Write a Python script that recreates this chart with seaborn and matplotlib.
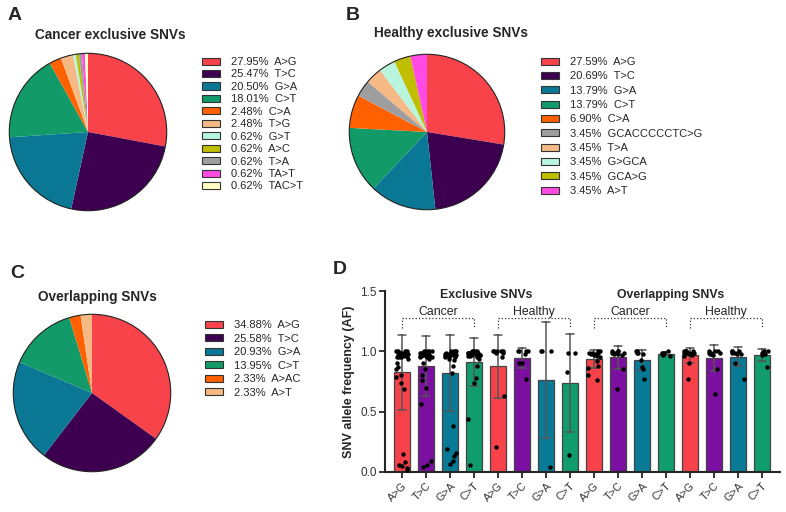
import numpy as np
import pandas as pd
import seaborn as sns
import matplotlib.pyplot as plt

sns.set_style('ticks')
plt.rcParams['font.family'] = ['Liberation Sans', 'DejaVu Sans']

# -- pie data (percent, mutation type, colour) --
cancer_pct = [27.95, 25.47, 20.50, 18.01, 2.48, 2.48, 0.62, 0.62, 0.62, 0.62, 0.62]
cancer_lab = ['A>G', 'T>C', 'G>A', 'C>T', 'C>A', 'T>G', 'G>T', 'A>C', 'T>A', 'TA>T', 'TAC>T']
cancer_col = ['#F8434A', '#3D0050', '#0A7895', '#129A68', '#FF6000', '#F5B985',
              '#B8F5DC', '#C0BE00', '#9E9E9E', '#FF4BE3', '#FFFFC4']

healthy_pct = [27.59, 20.69, 13.79, 13.79, 6.90, 3.45, 3.45, 3.45, 3.45, 3.45]
healthy_lab = ['A>G', 'T>C', 'G>A', 'C>T', 'C>A', 'GCACCCCCTC>G', 'T>A', 'G>GCA', 'GCA>G', 'A>T']
healthy_col = ['#F8434A', '#3D0050', '#0A7895', '#129A68', '#FF6000', '#9E9E9E',
               '#F5B985', '#B8F5DC', '#C0BE00', '#FF4BE3']

overlap_pct = [34.88, 25.58, 20.93, 13.95, 2.33, 2.33]
overlap_lab = ['A>G', 'T>C', 'G>A', 'C>T', 'A>AC', 'A>T']
overlap_col = ['#F8434A', '#3D0050', '#0A7895', '#129A68', '#FF6000', '#F5B985']

# -- allele frequencies per bar (panel D) --
groups = ['Exclusive cancer', 'Exclusive healthy', 'Overlapping cancer', 'Overlapping healthy']
muts = ['A>G', 'T>C', 'G>A', 'C>T']
af_exc_cancer = {
    'A>G': [0.15, 0.08, 0.06, 0.05, 0.03, 0.02, 0.90, 0.87, 0.85, 0.80, 0.79, 0.74, 0.69,
            0.99, 0.98, 0.97, 1.00, 0.96, 0.99, 0.98, 0.97, 1.00, 0.95, 0.99, 0.98, 0.96,
            0.97, 1.00, 0.99, 0.94, 0.98, 0.97, 0.96, 1.00, 0.99, 0.95, 0.98, 0.97, 0.99,
            0.96, 0.98, 0.97, 0.95, 0.99, 0.98],
    'T>C': [0.09, 0.06, 0.04, 0.90, 0.85, 0.80, 0.76, 0.70, 0.56,
            0.99, 0.98, 0.97, 1.00, 0.96, 0.99, 0.98, 0.97, 1.00, 0.95, 0.99, 0.98, 0.96,
            0.97, 1.00, 0.99, 0.94, 0.98, 0.97, 0.96, 1.00, 0.99, 0.95, 0.98, 0.97, 0.99,
            0.96, 0.98, 0.97, 0.95, 0.99, 0.98],
    'G>A': [0.38, 0.19, 0.16, 0.13, 0.09, 0.07, 0.93, 0.88, 0.82,
            0.99, 0.98, 0.97, 1.00, 0.96, 0.99, 0.98, 0.97, 1.00, 0.95, 0.99, 0.98, 0.96,
            0.97, 1.00, 0.99, 0.94, 0.98, 0.97, 0.96, 1.00, 0.99, 0.95, 0.97],
    'C>T': [0.44, 0.06, 0.88, 0.78, 0.74,
            0.99, 0.98, 0.97, 1.00, 0.96, 0.99, 0.98, 0.97, 1.00, 0.95, 0.99, 0.98, 0.96,
            0.97, 1.00, 0.99, 0.94, 0.98, 0.97, 0.96, 1.00, 0.99, 0.95, 0.97],
}
af_exc_healthy = {
    'A>G': [1.00, 1.00, 0.99, 1.00, 0.99, 1.00, 1.00, 0.95, 0.63, 0.21],
    'T>C': [1.00, 1.00, 1.00, 1.00, 0.98, 0.90, 0.90, 0.77],
    'G>A': [1.00, 1.00, 1.00, 0.04],
    'C>T': [0.99, 0.99, 0.83, 0.14],
}
af_ovl_cancer = {
    'A>G': [0.98, 0.99, 1.00, 0.97, 0.99, 0.98, 1.00, 0.96, 0.99, 0.95, 0.92, 0.88, 0.86, 0.80, 0.76],
    'T>C': [0.99, 1.00, 0.98, 0.99, 1.00, 0.97, 0.99, 0.98, 1.00, 0.85, 0.69],
    'G>A': [1.00, 0.99, 0.98, 1.00, 0.99, 0.93, 0.87, 0.85, 0.77],
    'C>T': [0.99, 1.00, 0.98, 0.97, 0.96, 0.99],
}
af_ovl_healthy = {
    'A>G': [1.00, 0.99, 0.98, 1.00, 0.99, 0.98, 1.00, 0.97, 0.99, 0.98, 1.00, 0.99, 0.96, 0.90, 0.77],
    'T>C': [1.00, 0.99, 0.98, 1.00, 0.99, 0.97, 0.99, 0.98, 1.00, 0.85, 0.65],
    'G>A': [1.00, 0.99, 0.98, 1.00, 0.99, 0.98, 1.00, 0.90, 0.77],
    'C>T': [1.00, 0.99, 0.98, 1.00, 0.97, 0.87],
}
bar_cols = ['#F8424A', '#7B0FA0', '#087A96', '#119C6D']

rows = []
for g, d in zip(groups, [af_exc_cancer, af_exc_healthy, af_ovl_cancer, af_ovl_healthy]):
    for m in muts:
        for v in d[m]:
            rows.append({'bar': g + ' ' + m, 'mut': m, 'af': v})
df = pd.DataFrame(rows)
bar_order = [g + ' ' + m for g in groups for m in muts]

fig = plt.figure(figsize=(7.86, 5.12), dpi=100)
W, H = 786.0, 512.0


def pie_panel(cx, cy, r, pct, lab, col, title, tx, ty, letter, lx, ly, leg_xy, spacing):
    ax = fig.add_axes([(cx - r) / W, 1 - (cy + r) / H, 2 * r / W, 2 * r / H])
    wedges, _ = ax.pie(pct, colors=col, startangle=90, counterclock=False,
                       wedgeprops=dict(linewidth=0))
    # thin outline round the whole pie
    ax.pie([1], colors=['none'], wedgeprops=dict(edgecolor='#222222', linewidth=0.8))
    ax.set_xlim(-1.01, 1.01)
    ax.set_ylim(-1.01, 1.01)
    for w in ax.patches:
        w.set_clip_on(False)
    labels = ['%.2f%%  %s' % (p, l) for p, l in zip(pct, lab)]
    for w in wedges:
        w.set_edgecolor('#333333')
    leg = fig.legend(wedges, labels, loc='upper left', bbox_to_anchor=leg_xy,
                     bbox_transform=fig.transFigure, frameon=False, fontsize=8,
                     borderpad=0, borderaxespad=0, handlelength=1.6, handleheight=0.6,
                     handletextpad=1.0, labelspacing=spacing)
    for h in leg.legend_handles:
        h.set_linewidth(0.8)
    for w in wedges:
        w.set_linewidth(0)
    fig.text(tx / W, 1 - ty / H, title, fontsize=9.8, fontweight='bold', ha='center', va='center')
    fig.text(lx / W, 1 - ly / H, letter, fontsize=14, fontweight='bold', ha='center', va='center')


pie_panel(88, 132, 79.5, cancer_pct, cancer_lab, cancer_col, 'Cancer exclusive SNVs',
          110, 35, 'A', 15, 15, (202 / W, 1 - 57 / H), 0.22)
pie_panel(427, 132, 78.5, healthy_pct, healthy_lab, healthy_col, 'Healthy exclusive SNVs',
          451, 33, 'B', 353, 15, (541 / W, 1 - 57 / H), 0.39)
pie_panel(92, 393, 79.5, overlap_pct, overlap_lab, overlap_col, 'Overlapping SNVs',
          97, 297, 'C', 17, 273, (205 / W, 1 - 320 / H), 0.32)

# -- panel D: bars with individual points --
axd = fig.add_axes([385 / W, 1 - 472 / H, 395 / W, 181 / H])
sns.barplot(data=df, x='bar', y='af', order=bar_order, hue='bar', hue_order=bar_order,
            palette=bar_cols * 4, saturation=1, errorbar='sd', capsize=0.32, width=0.64,
            err_kws={'color': '#555555', 'linewidth': 1.1}, edgecolor='#444444',
            linewidth=0.9, legend=False, ax=axd)
np.random.seed(3)
sns.stripplot(data=df, x='bar', y='af', order=bar_order, color='black', size=3.2,
              jitter=0.27, ax=axd)
axd.set_xlim(-0.71, 15.75)
axd.set_ylim(0, 1.5)
axd.set_yticks([0, 0.5, 1.0, 1.5])
axd.set_yticklabels(['0.0', '0.5', '1.0', '1.5'], fontsize=8.5, color='#333333')
axd.set_xticks(range(16))
axd.set_xticklabels(muts * 4, rotation=45, ha='right', rotation_mode='anchor',
                    fontsize=7.8, color='#333333')
axd.set_xlabel('')
axd.set_ylabel('SNV allele frequency (AF)', fontsize=9, fontweight='bold')
for s in ['top', 'right']:
    axd.spines[s].set_visible(False)
for s in ['left', 'bottom']:
    axd.spines[s].set_linewidth(1.5)
axd.tick_params(width=1.3, length=4, direction='out', pad=2)

axd.text(3.5, 1.47, 'Exclusive SNVs', fontsize=8.8, fontweight='bold', ha='center', va='center')
axd.text(11.2, 1.47, 'Overlapping SNVs', fontsize=8.8, fontweight='bold', ha='center', va='center')
for start, name in [(0, 'Cancer'), (4, 'Healthy'), (8, 'Cancer'), (12, 'Healthy')]:
    axd.plot([start, start, start + 3, start + 3], [1.19, 1.275, 1.275, 1.19],
             linestyle=':', color='#333333', linewidth=0.9, clip_on=False)
    axd.text(start + 1.5, 1.33, name, fontsize=8.8, ha='center', va='center', color='#222222')
fig.text(340 / W, 1 - 270 / H, 'D', fontsize=14, fontweight='bold', ha='center', va='center')

fig.savefig('out.png', dpi=100)
